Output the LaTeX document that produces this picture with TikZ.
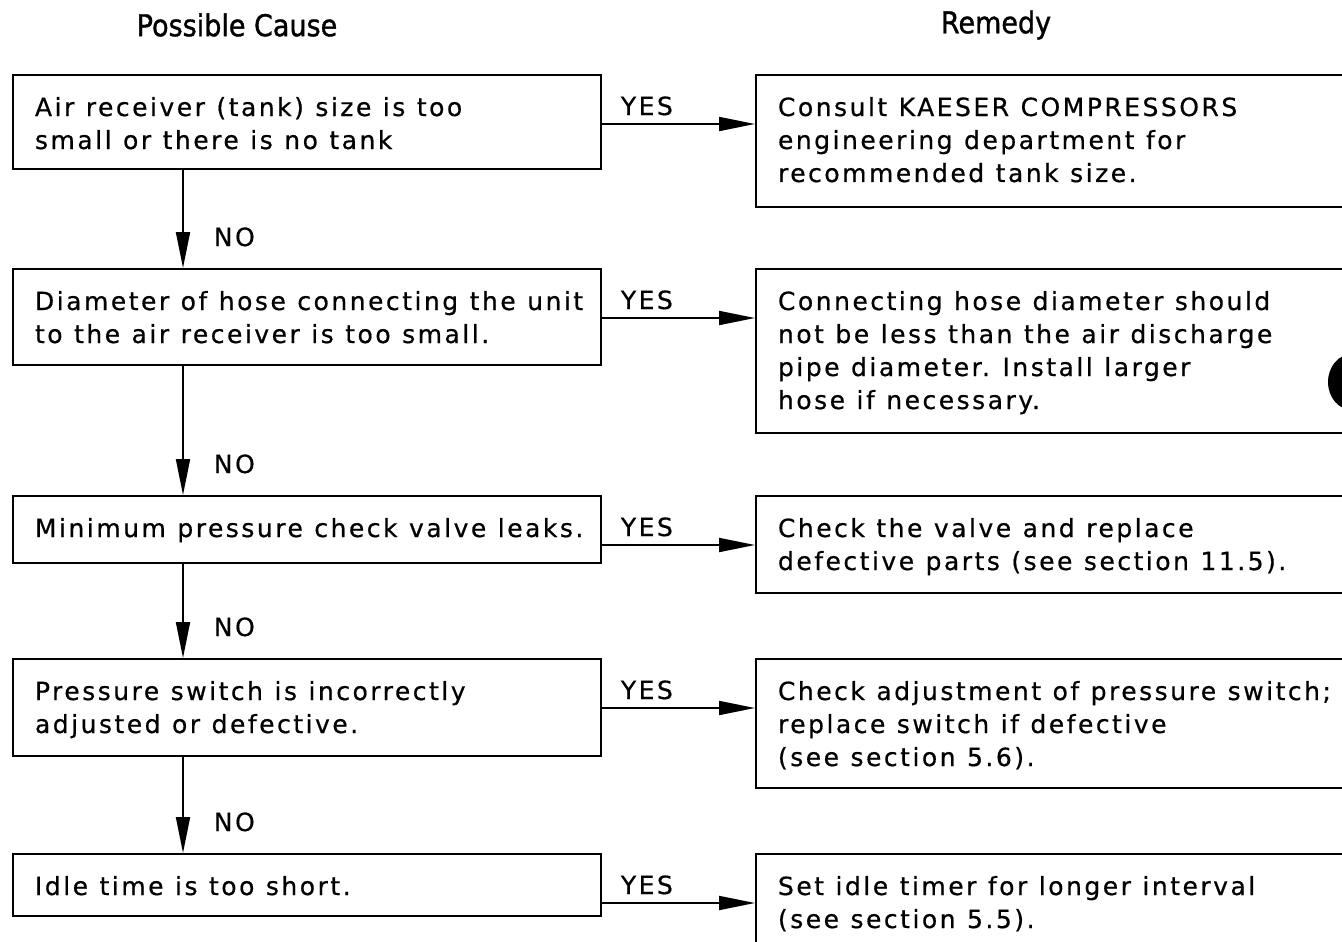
\documentclass[tikz,border=0pt]{standalone}
\usepackage{fontspec}
\setmainfont{DejaVu Sans}[LetterSpace=10, FakeBold=0.6]
\newfontfamily\headfont{DejaVu Sans}[FakeStretch=0.9, FakeBold=1.2]
\usepackage{tikz}
\usetikzlibrary{arrows.meta,calc,positioning}

\newcommand{\rows}[1]{\spaceskip=11.5pt\relax\begin{tabular}[t]{@{}l@{}}#1\end{tabular}}

\tikzset{
  cause/.style={draw, line width=2pt, anchor=north west, inner xsep=22pt, inner ysep=0pt,
    text width=544pt, align=left, text height=41pt, text depth=#1},
  remedy/.style={draw, line width=2pt, anchor=north west, inner xsep=22pt, inner ysep=0pt,
    text width=640pt, align=left, text height=41pt, text depth=#1},
  arr/.style={line width=1.8pt, -{Triangle[length=36pt,width=14pt]}},
  lbl/.style={anchor=base west, inner sep=0pt},
}

\begin{document}
\begin{tikzpicture}[x=1pt,y=-1pt,font=\fontsize{25}{33}\selectfont]
\useasboundingbox (0,0) rectangle (1342,942);
\node[font=\headfont\fontsize{30}{30}\selectfont] (hc) at (237,25) {Possible Cause};
\node[font=\headfont\fontsize{30}{30}\selectfont] (hr) at (996,25) {Remedy};

\node[cause=53pt] (c1) at (12,74) {\rows{Air receiver (tank) size is too\\small or there is no tank}};
\node[cause=55pt] (c2) at (12,268) {\rows{Diameter of hose connecting the unit\\to the air receiver is too small.}};
\node[cause=26pt] (c3) at (12,495) {\rows{Minimum pressure check valve leaks.}};
\node[cause=56pt] (c4) at (12,658) {\rows{Pressure switch is incorrectly\\adjusted or defective.}};
\node[cause=21pt] (c5) at (12,853) {\rows{Idle time is too short.}};

\node[remedy=91pt] (r1) at (755,74) {\rows{Consult KAESER COMPRESSORS\\engineering department for\\recommended tank size.}};
\node[remedy=123pt] (r2) at (755,268) {\rows{Connecting hose diameter should\\not be less than the air discharge\\pipe diameter. Install larger\\hose if necessary.}};
\node[remedy=56pt] (r3) at (755,495) {\rows{Check the valve and replace\\defective parts (see section 11.5).}};
\node[remedy=88pt] (r4) at (755,658) {\rows{Check adjustment of pressure switch;\\replace switch if defective\\(see section 5.6).}};
\node[remedy=130pt] (r5) at (755,853) {\rows{Set idle timer for longer interval\\(see section 5.5).}};

\foreach \i in {1,...,5}{
  \draw[arr] ([yshift=-50pt]c\i.north east) -- ([yshift=-50pt]r\i.north west)
    node[lbl, pos=0, xshift=18pt, yshift=9pt] {YES};
}
\foreach \i/\j in {1/2,2/3,3/4,4/5}{
  \draw[arr] ([xshift=171pt]c\i.south west) -- ([xshift=171pt]c\j.north west)
    node[lbl, pos=1, xshift=30pt, yshift=22pt] {NO};
}
\fill (1352,382) ellipse [x radius=24pt, y radius=28pt];
\end{tikzpicture}
\end{document}
